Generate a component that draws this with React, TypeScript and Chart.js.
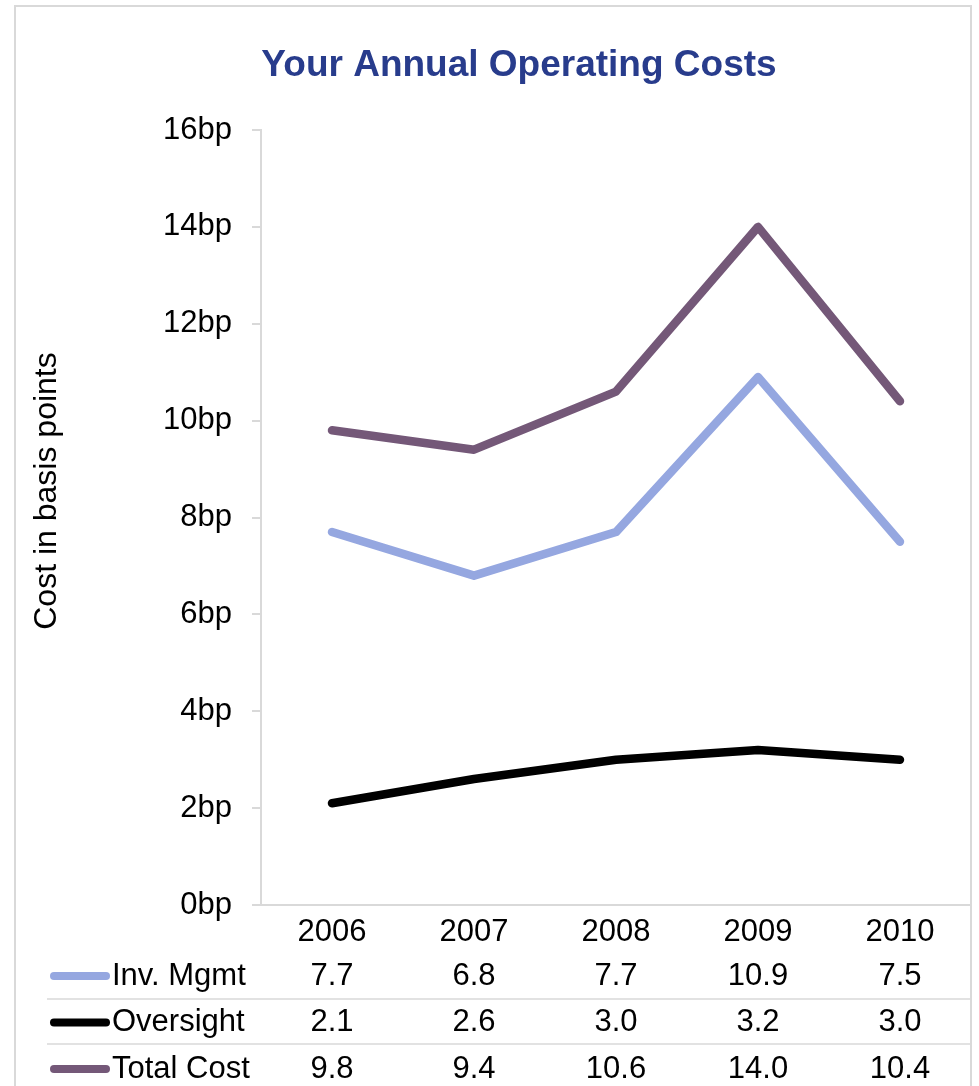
import React, { useEffect, useRef } from "react";
import { Chart, registerables } from "chart.js";

Chart.register(...registerables);

const years = ["2006", "2007", "2008", "2009", "2010"];
const invMgmt = [7.7, 6.8, 7.7, 10.9, 7.5];
const oversight = [2.1, 2.6, 3.0, 3.2, 3.0];
const totalCost = [9.8, 9.4, 10.6, 14.0, 10.4];
const seriesNames = ["Inv. Mgmt", "Oversight", "Total Cost"];
const seriesColors = ["#95A7E0", "#000000", "#745878"];
const chartTitle = "Your Annual Operating Costs";
const yAxisTitle = "Cost in basis points";
const tickSuffix = "bp";

const FONT = '"Liberation Sans", Arial, sans-serif';
const GRAY = "#D9D9D9";
const TEXT_SIZE = 31;

const framePlugin = {
  id: "frame",
  beforeDraw(chart: any) {
    const ctx = chart.ctx;
    ctx.save();
    ctx.fillStyle = "#ffffff";
    ctx.fillRect(0, 0, chart.width, chart.height);
    ctx.strokeStyle = GRAY;
    ctx.lineWidth = 2;
    ctx.strokeRect(15, 6, 956, chart.height + 20);
    ctx.restore();
  },
  afterDraw(chart: any) {
    const ctx = chart.ctx;
    const area = chart.chartArea;
    const xs = chart.scales.x;
    ctx.save();
    // title
    ctx.fillStyle = "#283C8C";
    ctx.font = `bold 37px ${FONT}`;
    ctx.textAlign = "center";
    ctx.textBaseline = "middle";
    ctx.fillText(chartTitle, 519, 66);
    // y axis title
    ctx.save();
    ctx.translate(47, 491);
    ctx.rotate(-Math.PI / 2);
    ctx.fillStyle = "#000";
    ctx.font = `${TEXT_SIZE + 1}px ${FONT}`;
    ctx.fillText(yAxisTitle, 0, 0);
    ctx.restore();
    // separators
    ctx.strokeStyle = GRAY;
    ctx.lineWidth = 1.5;
    [area.bottom + 94, area.bottom + 139].forEach((y: number) => {
      ctx.beginPath();
      ctx.moveTo(47, y);
      ctx.lineTo(area.right, y);
      ctx.stroke();
    });
    // data table
    chart.data.datasets.forEach((ds: any, i: number) => {
      const y = area.bottom + 71 + i * 46.5;
      ctx.strokeStyle = ds.borderColor;
      ctx.lineWidth = 8;
      ctx.lineCap = "round";
      ctx.beginPath();
      ctx.moveTo(54, y);
      ctx.lineTo(106, y);
      ctx.stroke();
      ctx.fillStyle = "#000";
      ctx.font = `${TEXT_SIZE}px ${FONT}`;
      ctx.textBaseline = "middle";
      ctx.textAlign = "left";
      ctx.fillText(ds.label, 112, y);
      ctx.textAlign = "center";
      ds.data.forEach((v: number, j: number) => {
        ctx.fillText(v.toFixed(1), xs.getPixelForValue(j), y);
      });
    });
    ctx.restore();
  },
};

export default function App() {
  const ref = useRef<HTMLCanvasElement>(null);
  useEffect(() => {
    if (!ref.current) return;
    const values = [invMgmt, oversight, totalCost];
    const chart = new Chart(ref.current, {
      type: "line",
      data: {
        labels: years,
        datasets: values.map((d, i) => ({
          label: seriesNames[i],
          data: d,
          borderColor: seriesColors[i],
          backgroundColor: seriesColors[i],
          borderWidth: 8.5,
          pointRadius: 0,
          tension: 0,
          borderJoinStyle: "round" as const,
          borderCapStyle: "round" as const,
          fill: false,
        })),
      },
      options: {
        responsive: false,
        animation: false,
        layout: { padding: { top: 130, left: 0, right: 8, bottom: 131 } },
        plugins: {
          legend: { display: false },
          tooltip: { enabled: false },
          title: { display: false },
        },
        scales: {
          x: {
            offset: true,
            grid: { display: false, drawTicks: false },
            border: { display: true, color: GRAY, width: 2 },
            ticks: {
              color: "#000",
              font: { family: FONT, size: TEXT_SIZE },
              padding: 9,
              maxRotation: 0,
            },
            afterFit(scale: any) {
              scale.height = 50;
            },
          },
          y: {
            min: 0,
            max: 16,
            grid: {
              drawOnChartArea: false,
              drawTicks: true,
              tickLength: 9,
              color: GRAY,
              lineWidth: 2,
            },
            border: { display: true, color: GRAY, width: 2 },
            ticks: {
              stepSize: 2,
              color: "#000",
              font: { family: FONT, size: TEXT_SIZE },
              padding: 20,
              callback: (v: any) => `${v}${tickSuffix}`,
            },
            afterFit(scale: any) {
              scale.width = 261;
            },
          },
        },
      },
      plugins: [framePlugin],
    });
    return () => chart.destroy();
  }, []);
  return (
    <div style={{ position: "absolute", left: 0, top: 0, width: 979, height: 1086 }}>
      <canvas ref={ref} width={979} height={1086} />
    </div>
  );
}
